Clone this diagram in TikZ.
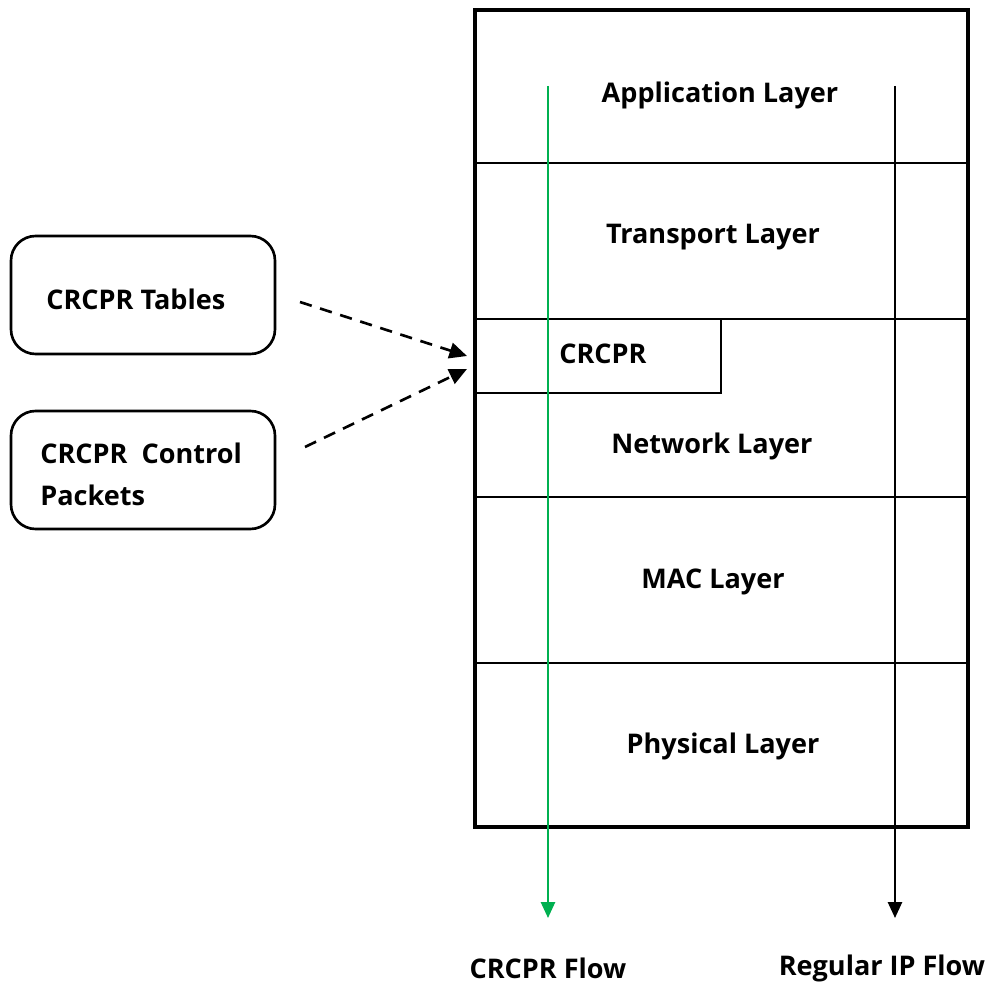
\documentclass[tikz,border=0pt]{standalone}
\usepackage{fontspec}
\setmainfont{Open Sans}
\usetikzlibrary{arrows.meta}
\definecolor{flowgreen}{RGB}{0,176,80}
\begin{document}
\begin{tikzpicture}[x=0.02cm,y=-0.02cm,
  txt/.style={font=\fontsize{15.4}{24}\selectfont\bfseries, inner sep=0pt},
  sidebox/.style={draw, line width=1.5pt, rounded corners=14pt, minimum width=264*0.02cm, minimum height=118*0.02cm},
  layerline/.style={line width=1.5pt},
  flow/.style={line width=1.2pt, -{Triangle[length=9pt,width=8pt]}},
  feed/.style={line width=1.5pt, dashed, dash pattern=on 7pt off 5pt, -{Triangle[length=10pt,width=9pt]}}]
\useasboundingbox (0,0) rectangle (992,983);
% protocol stack
\draw[line width=2pt] (475,10) rectangle (968,827);
\draw[layerline] (475,163) -- (968,163);
\draw[layerline] (475,319) -- (968,319);
\draw[layerline] (475,497) -- (968,497);
\draw[layerline] (475,663) -- (968,663);
\draw[layerline] (721,319) -- (721,393) -- (475,393);
\node[txt] (app) at (720,95) {Application Layer};
\node[txt] (trans) at (713,237) {Transport Layer};
\node[txt] (crcpr) at (603,354) {CRCPR};
\node[txt] (net) at (712,446) {Network Layer};
\node[txt] (mac) at (713,582) {MAC Layer};
\node[txt] (phy) at (723,746) {Physical Layer};
% flows
\coordinate (gtop) at (548,86);
\coordinate (btop) at (895,86);
\node[txt] (gflow) at (548,968) {CRCPR Flow};
\node[txt] (bflow) at (882,968) {Regular IP Flow};
\coordinate (gend) at (548,918);
\coordinate (bend) at (895,918);
\draw[flow, flowgreen] (gtop) -- (gend);
\draw[flow] (btop) -- (bend);
% side inputs
\node[sidebox] (tables) at (143,295) {};
\node[txt, anchor=west] (tablestxt) at (46,299) {CRCPR Tables};
\node[sidebox] (ctrl) at (143,470) {};
\node[txt, anchor=west, align=left] (ctrltxt) at (40,474) {CRCPR\ \ Control\\Packets};
\coordinate (t1) at (300,302);
\coordinate (t2) at (467,356);
\coordinate (c1) at (305,447);
\coordinate (c2) at (467,369);
\draw[feed] (t1) -- (t2);
\draw[feed] (c1) -- (c2);
\end{tikzpicture}
\end{document}
